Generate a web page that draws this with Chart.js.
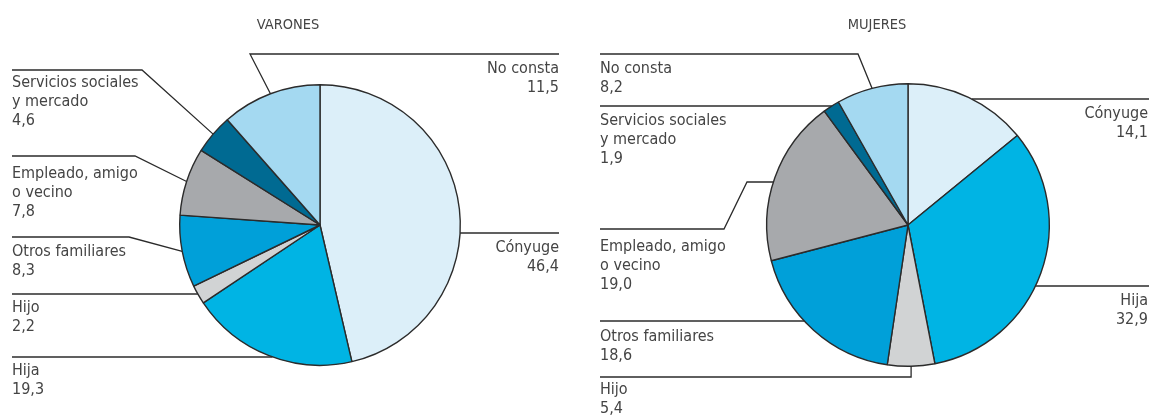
<!DOCTYPE html>
<html>
<head>
<meta charset="utf-8">
<script src="https://cdn.jsdelivr.net/npm/chart.js@4/dist/chart.umd.min.js"></script>
<style>
  body { margin: 0; background: #fff; }
  #wrap { position: relative; width: 1149px; height: 416px; }
  canvas { position: absolute; top: 0; }
</style>
</head>
<body>
<div id="wrap">
  <canvas id="varones" width="580" height="416" style="left:0"></canvas>
  <canvas id="mujeres" width="569" height="416" style="left:580px"></canvas>
</div>
<script>
// datos
const categorias = ['Cónyuge', 'Hija', 'Hijo', 'Otros familiares', 'Empleado, amigo o vecino', 'Servicios sociales y mercado', 'No consta'];
const etiquetas = [['Cónyuge'], ['Hija'], ['Hijo'], ['Otros familiares'], ['Empleado, amigo', 'o vecino'], ['Servicios sociales', 'y mercado'], ['No consta']];
const valoresVarones = [46.4, 19.3, 2.2, 8.3, 7.8, 4.6, 11.5];
const valoresMujeres = [14.1, 32.9, 5.4, 18.6, 19.0, 1.9, 8.2];
const colores = ['#dceff9', '#00b4e4', '#d1d3d4', '#00a0d9', '#a7a9ac', '#006a92', '#a4d9f1'];

// posiciones de las etiquetas y lineas guia (coordenadas del canvas)
const rotulosVarones = [
  { align: 'right', x: 559, y: 248, line: [[559, 233]], end: 'hit' },
  { align: 'left', x: 12, y: 371, line: [[12, 357]], end: 'hit' },
  { align: 'left', x: 12, y: 308, line: [[12, 294]], end: 'hit' },
  { align: 'left', x: 12, y: 252, line: [[12, 237], [129, 237]], end: 'mid' },
  { align: 'left', x: 12, y: 174, line: [[12, 156], [135, 156]], end: 'mid' },
  { align: 'left', x: 12, y: 83, line: [[12, 70], [142, 70]], end: 'mid' },
  { align: 'right', x: 559, y: 69, line: [[559, 54], [250, 54]], end: 'mid' }
];
const rotulosMujeres = [
  { align: 'right', x: 568, y: 114, line: [[569, 99]], end: 'hit' },
  { align: 'right', x: 568, y: 301, line: [[569, 286]], end: 'hit' },
  { align: 'left', x: 20, y: 390, line: [[20, 377], ['midx', 377]], end: 'mid' },
  { align: 'left', x: 20, y: 337, line: [[20, 321]], end: 'hit' },
  { align: 'left', x: 20, y: 247, line: [[20, 229], [144, 229], [167, 182]], end: 'hit' },
  { align: 'left', x: 20, y: 121, line: [[20, 106]], end: 'hit' },
  { align: 'left', x: 20, y: 69, line: [[20, 54], [278, 54]], end: 'mid' }
];

const FUENTE = '"DejaVu Sans Condensed", sans-serif';

const rotulosPlugin = {
  id: 'rotulos',
  afterDraw(chart, args, opts) {
    const ctx = chart.ctx;
    const meta = chart.getDatasetMeta(0);
    const valores = chart.data.datasets[0].data;
    ctx.save();
    // titulo
    ctx.fillStyle = '#444';
    ctx.font = '14.5px ' + FUENTE;
    ctx.textAlign = 'center';
    ctx.textBaseline = 'middle';
    ctx.fillText(opts.titulo, opts.tituloX, 25);

    meta.data.forEach((arc, i) => {
      const r = opts.rotulos[i];
      const cx = arc.x, cy = arc.y, rad = arc.outerRadius;
      const mid = (arc.startAngle + arc.endAngle) / 2;
      const mx = cx + rad * Math.cos(mid), my = cy + rad * Math.sin(mid);
      const pts = r.line.map(p => [p[0] === 'midx' ? mx : p[0], p[1]]);
      if (r.end === 'mid') {
        pts.push([mx, my]);
      } else {
        const last = pts[pts.length - 1];
        const dy = last[1] - cy;
        const dx = Math.sqrt(Math.max(0, rad * rad - dy * dy));
        pts.push([last[0] < cx ? cx - dx : cx + dx, last[1]]);
      }
      ctx.strokeStyle = '#2b2b2b';
      ctx.lineWidth = 1.3;
      ctx.beginPath();
      pts.forEach((p, k) => k ? ctx.lineTo(p[0], p[1]) : ctx.moveTo(p[0], p[1]));
      ctx.stroke();

      const lineas = etiquetas[i].concat([valores[i].toFixed(1).replace('.', ',')]);
      ctx.fillStyle = '#444';
      ctx.font = '16px ' + FUENTE;
      ctx.textAlign = r.align;
      lineas.forEach((t, k) => ctx.fillText(t, r.x, r.y + k * 19));
    });
    ctx.restore();
  }
};

function crearTarta(id, valores, titulo, tituloX, rotulos, padding) {
  return new Chart(document.getElementById(id), {
    type: 'pie',
    data: {
      labels: categorias,
      datasets: [{
        data: valores,
        backgroundColor: colores,
        borderColor: '#2b2b2b',
        borderWidth: 1.4
      }]
    },
    options: {
      responsive: false,
      animation: false,
      layout: { padding: padding },
      plugins: {
        legend: { display: false },
        tooltip: { enabled: false },
        rotulos: { titulo: titulo, tituloX: tituloX, rotulos: rotulos }
      }
    },
    plugins: [rotulosPlugin]
  });
}

crearTarta('varones', valoresVarones, 'VARONES', 288, rotulosVarones,
  { left: 179, right: 119, top: 84, bottom: 50 });
crearTarta('mujeres', valoresMujeres, 'MUJERES', 297, rotulosMujeres,
  { left: 186, right: 99, top: 83, bottom: 49 });
</script>
</body>
</html>
